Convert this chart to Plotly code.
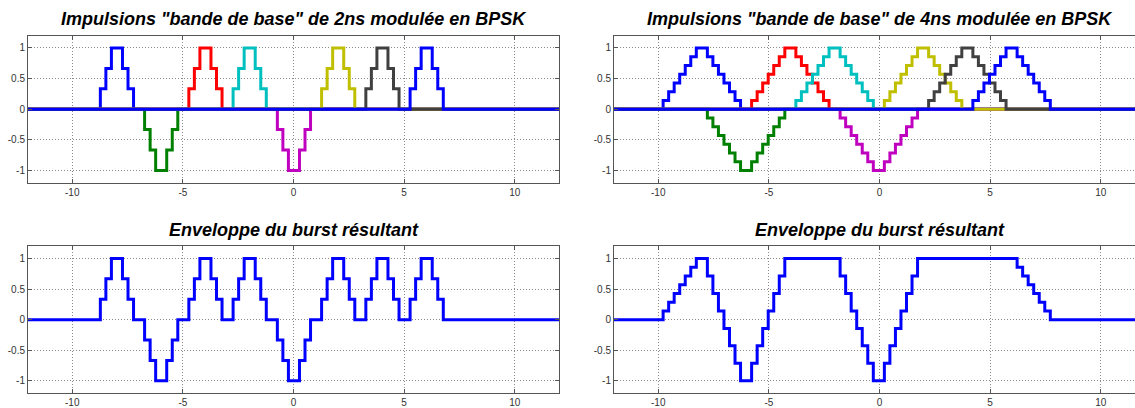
import plotly.graph_objects as go

# ---------------- data ----------------
PULSE_CENTERS = [-8, -6, -4, -2, 0, 2, 4, 6]          # ns
BPSK_SIGNS = [1, -1, 1, 1, -1, 1, 1, 1]
PULSE_COLORS = ["#0000ff", "#008000", "#ff0000", "#00bfbf",
                "#bf00bf", "#bfbf00", "#404040", "#0000ff"]

PULSE_2NS_LEVELS = [1/3, 2/3, 1, 1, 2/3, 1/3]
PULSE_4NS_LEVELS = [1/7, 2/7, 3/7, 4/7, 5/7, 6/7, 1, 1,
                    6/7, 5/7, 4/7, 3/7, 2/7, 1/7]
SAMPLE_STEP = 0.25            # ns
PULSE_2NS_START = -0.73       # ns, relative to pulse centre
PULSE_4NS_START = -1.78       # ns, relative to pulse centre
T_MIN, T_MAX = -12, 12

X_TICKS = [-10, -5, 0, 5, 10]
Y_TICKS = [-1, -0.5, 0, 0.5, 1]
Y_TICK_TEXT = ["-1", "-0.5", "0", "0.5", "1"]

TITLE_TOP_LEFT = 'Impulsions "bande de base" de 2ns modulée en BPSK'
TITLE_TOP_RIGHT = 'Impulsions "bande de base" de 4ns modulée en BPSK'
TITLE_BOTTOM = "Enveloppe du burst résultant"


def pulse_xy(center, sign, levels, start):
    s = center + start
    xs = [T_MIN] + [s + i * SAMPLE_STEP for i in range(len(levels) + 1)] + [T_MAX]
    ys = [0] + [sign * v for v in levels] + [0, 0]
    return xs, ys


def pulse_value(t, center, sign, levels, start):
    s = center + start
    k = (t - s) / SAMPLE_STEP
    if k < 0 or k >= len(levels):
        return 0.0
    return sign * levels[int(k)]


def envelope_xy(levels, start):
    bps = {T_MIN, T_MAX}
    for c in PULSE_CENTERS:
        s = c + start
        for i in range(len(levels) + 1):
            bps.add(round(s + i * SAMPLE_STEP, 9))
    bps = sorted(bps)
    xs, ys = [], []
    for i, b in enumerate(bps):
        t = b if i == len(bps) - 1 else (b + bps[i + 1]) / 2
        v = sum(pulse_value(t, c, sg, levels, start)
                for c, sg in zip(PULSE_CENTERS, BPSK_SIGNS))
        v = max(-1.0, min(1.0, v))
        xs.append(b)
        ys.append(v)
    return xs, ys


# ---------------- figure ----------------
W, H = 1135, 408
fig = go.Figure()

# axes geometry (pixels)
L_X0, L_X1 = 28, 559
R_X0 = 614
PX_PER_NS = (L_X1 - L_X0) / 24.0
R_RANGE_MAX = -12 + (W - R_X0) / PX_PER_NS
TOP_Y0, TOP_Y1 = 36, 184
BOT_Y0, BOT_Y1 = 248, 396


def px_to_paper_x(px):
    return px / W


def px_to_paper_y(py):
    return 1 - py / H


axes = {
    "x": dict(domain=[px_to_paper_x(L_X0), px_to_paper_x(L_X1)], anchor="y", rng=[-12, 12]),
    "x2": dict(domain=[px_to_paper_x(R_X0), 1.0], anchor="y2", rng=[-12, R_RANGE_MAX]),
    "x3": dict(domain=[px_to_paper_x(L_X0), px_to_paper_x(L_X1)], anchor="y3", rng=[-12, 12]),
    "x4": dict(domain=[px_to_paper_x(R_X0), 1.0], anchor="y4", rng=[-12, R_RANGE_MAX]),
}
yaxes = {
    "y": dict(domain=[px_to_paper_y(TOP_Y1), px_to_paper_y(TOP_Y0)], anchor="x", mirror="ticks"),
    "y2": dict(domain=[px_to_paper_y(TOP_Y1), px_to_paper_y(TOP_Y0)], anchor="x2", mirror=False),
    "y3": dict(domain=[px_to_paper_y(BOT_Y1), px_to_paper_y(BOT_Y0)], anchor="x3", mirror="ticks"),
    "y4": dict(domain=[px_to_paper_y(BOT_Y1), px_to_paper_y(BOT_Y0)], anchor="x4", mirror=False),
}

# top-left: 2 ns pulses
for c, sg, col in zip(PULSE_CENTERS, BPSK_SIGNS, PULSE_COLORS):
    xs, ys = pulse_xy(c, sg, PULSE_2NS_LEVELS, PULSE_2NS_START)
    fig.add_trace(go.Scatter(x=xs, y=ys, mode="lines", line=dict(color=col, width=3, shape="hv"),
                             xaxis="x", yaxis="y", showlegend=False, hoverinfo="skip"))
# top-right: 4 ns pulses
for c, sg, col in zip(PULSE_CENTERS, BPSK_SIGNS, PULSE_COLORS):
    xs, ys = pulse_xy(c, sg, PULSE_4NS_LEVELS, PULSE_4NS_START)
    fig.add_trace(go.Scatter(x=xs, y=ys, mode="lines", line=dict(color=col, width=3, shape="hv"),
                             xaxis="x2", yaxis="y2", showlegend=False, hoverinfo="skip"))
# bottom-left / bottom-right envelopes
ex, ey = envelope_xy(PULSE_2NS_LEVELS, PULSE_2NS_START)
fig.add_trace(go.Scatter(x=ex, y=ey, mode="lines", line=dict(color="#0000ff", width=3, shape="hv"),
                         xaxis="x3", yaxis="y3", showlegend=False, hoverinfo="skip"))
ex, ey = envelope_xy(PULSE_4NS_LEVELS, PULSE_4NS_START)
fig.add_trace(go.Scatter(x=ex, y=ey, mode="lines", line=dict(color="#0000ff", width=3, shape="hv"),
                         xaxis="x4", yaxis="y4", showlegend=False, hoverinfo="skip"))

FRAME = "#555555"
GRID = "#8a8a8a"
TICKFONT = dict(family="Liberation Sans, Arial, sans-serif", size=10, color="#333333")

layout = dict(
    width=W, height=H,
    margin=dict(l=0, r=0, t=0, b=0),
    paper_bgcolor="white", plot_bgcolor="white",
    showlegend=False,
)
for name, a in axes.items():
    key = "xaxis" if name == "x" else "xaxis" + name[1:]
    layout[key] = dict(
        domain=a["domain"], anchor=a["anchor"], range=a["rng"],
        tickvals=X_TICKS, ticktext=[str(v) for v in X_TICKS],
        showline=True, linecolor=FRAME, linewidth=1, mirror="ticks",
        ticks="inside", ticklen=4, tickcolor=FRAME, tickwidth=1,
        showgrid=True, gridcolor=GRID, griddash="1px,2px", gridwidth=1,
        zeroline=False, tickfont=TICKFONT, fixedrange=True,
    )
for name, a in yaxes.items():
    key = "yaxis" if name == "y" else "yaxis" + name[1:]
    layout[key] = dict(
        domain=a["domain"], anchor=a["anchor"], range=[-1.2, 1.2],
        tickvals=Y_TICKS, ticktext=Y_TICK_TEXT,
        showline=True, linecolor=FRAME, linewidth=1, mirror=a["mirror"],
        ticks="inside", ticklen=4, tickcolor=FRAME, tickwidth=1,
        showgrid=True, gridcolor=GRID, griddash="1px,2px", gridwidth=1,
        zeroline=False, tickfont=TICKFONT, fixedrange=True,
    )
fig.update_layout(**layout)

TITLEFONT = dict(family="Liberation Sans, Arial, sans-serif", size=18, color="black")
left_center = px_to_paper_x((L_X0 + L_X1) / 2)
right_center = px_to_paper_x(R_X0 + (L_X1 - L_X0) / 2)
titles = [
    (TITLE_TOP_LEFT, left_center, 19),
    (TITLE_TOP_RIGHT, right_center, 19),
    (TITLE_BOTTOM, left_center, 232),
    (TITLE_BOTTOM, right_center, 232),
]
for txt, xc, ypx in titles:
    fig.add_annotation(text="<b><i>" + txt + "</i></b>", x=xc, y=px_to_paper_y(ypx),
                       xref="paper", yref="paper", xanchor="center", yanchor="middle",
                       showarrow=False, font=TITLEFONT)

fig.write_html("out.html", config={"displayModeBar": False},
               post_script="document.body.style.margin='0';")
